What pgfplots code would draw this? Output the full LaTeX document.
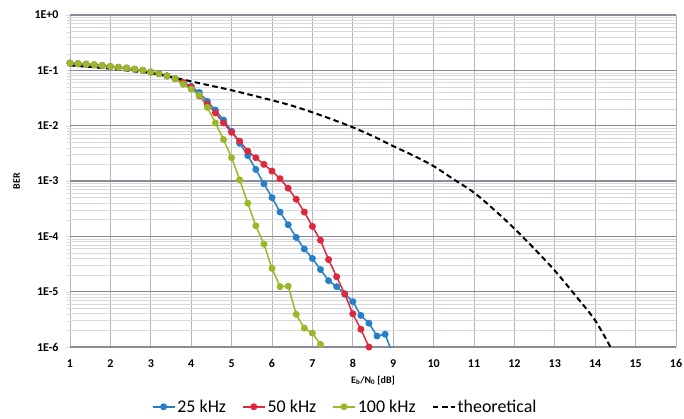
\documentclass[border=0pt]{standalone}
\usepackage{fontspec}
\setmainfont{Carlito}
\usepackage{pgfplots}
\usepackage{pgfplotstable}
\pgfplotsset{compat=1.18}
\definecolor{cblue}{RGB}{38,128,200}
\definecolor{cred}{RGB}{222,40,62}
\definecolor{cgreen}{RGB}{152,186,40}
\definecolor{gmaj}{RGB}{140,140,150}
\definecolor{gvert}{RGB}{180,180,190}
\definecolor{gmin}{RGB}{216,216,224}

\pgfplotstableread{
x y
1.0 0.135
1.2 0.132
1.4 0.129
1.6 0.126
1.8 0.122
2.0 0.117
2.2 0.1135
2.4 0.110
2.6 0.105
2.8 0.100
3.0 0.0933
3.2 0.0871
3.4 0.0794
3.6 0.0708
3.8 0.0603
4.0 0.0513
4.2 0.0398
4.4 0.0275
4.6 0.0191
4.8 0.0126
5.0 0.00794
5.2 0.00479
5.4 0.00288
5.6 0.00162
5.8 8.91e-4
6.0 5.01e-4
6.2 2.75e-4
6.4 1.62e-4
6.6 9.55e-5
6.8 5.89e-5
7.0 3.98e-5
7.2 2.51e-5
7.4 1.58e-5
7.6 1.23e-5
7.8 9.12e-6
8.0 6.61e-6
8.2 3.72e-6
8.4 2.69e-6
8.6 1.58e-6
8.8 1.70e-6
9.0 7.1e-7
}\blue

\pgfplotstableread{
x y
1.0 0.135
1.2 0.132
1.4 0.129
1.6 0.126
1.8 0.122
2.0 0.117
2.2 0.1135
2.4 0.110
2.6 0.105
2.8 0.100
3.0 0.0933
3.2 0.0871
3.4 0.0794
3.6 0.0708
3.8 0.0603
4.0 0.0501
4.2 0.0347
4.4 0.0245
4.6 0.0170
4.8 0.0112
5.0 0.00759
5.2 0.00525
5.4 0.00347
5.6 0.00263
5.8 0.00200
6.0 0.00151
6.2 0.00110
6.4 7.41e-4
6.6 4.68e-4
6.8 2.75e-4
7.0 1.51e-4
7.2 8.51e-5
7.4 3.80e-5
7.6 1.86e-5
7.8 9.12e-6
8.0 3.98e-6
8.2 2.09e-6
8.4 1.0e-6
}\red

\pgfplotstableread{
x y
1.0 0.135
1.2 0.132
1.4 0.129
1.6 0.126
1.8 0.122
2.0 0.117
2.2 0.1135
2.4 0.110
2.6 0.105
2.8 0.100
3.0 0.0933
3.2 0.0871
3.4 0.0794
3.6 0.0708
3.8 0.0562
4.0 0.0457
4.2 0.0355
4.4 0.0214
4.6 0.0112
4.8 0.00562
5.0 0.00263
5.2 0.00105
5.4 3.98e-4
5.6 1.55e-4
5.8 7.24e-5
6.0 2.63e-5
6.2 1.23e-5
6.4 1.26e-5
6.6 3.89e-6
6.8 2.19e-6
7.0 1.78e-6
7.2 1.12e-6
}\green

\pgfplotstableread{
x y
1 0.123
1.5 0.115
2 0.107
2.5 0.0977
3 0.0891
3.5 0.0759
4 0.0631
4.5 0.0525
5 0.0437
5.5 0.0355
6 0.0288
6.5 0.0229
7 0.0174
7.5 0.0129
8 0.00933
8.5 0.00646
9 0.00427
9.5 0.00288
10 0.00186
10.5 0.00107
11 6.17e-4
11.5 3.02e-4
12 1.38e-4
12.5 5.89e-5
13 2.40e-5
13.5 8.71e-6
14 3.02e-6
14.4 9.3e-7
}\theo

\begin{document}
\begin{tikzpicture}
\begin{axis}[
  name=ax,
  scale only axis,
  width=606bp, height=332bp,
  ymode=log,
  xmin=1, xmax=16, ymin=1e-6, ymax=1,
  xtick={1,...,16},
  xticklabels={1,2,3,4,5,6,7,8,9,10,11,12,13,14,15,16},
  ytick={1e-6,1e-5,1e-4,1e-3,1e-2,1e-1,1},
  yticklabels={1E-6,1E-5,1E-4,1E-3,1E-2,1E-1,1E+0},
  minor ytick={2e-6,3e-6,4e-6,5e-6,6e-6,7e-6,8e-6,9e-6,
               2e-5,3e-5,4e-5,5e-5,6e-5,7e-5,8e-5,9e-5,
               2e-4,3e-4,4e-4,5e-4,6e-4,7e-4,8e-4,9e-4,
               2e-3,3e-3,4e-3,5e-3,6e-3,7e-3,8e-3,9e-3,
               2e-2,3e-2,4e-2,5e-2,6e-2,7e-2,8e-2,9e-2,
               0.2,0.3,0.4,0.5,0.6,0.7,0.8,0.9},
  xmajorgrids, ymajorgrids, yminorgrids,
  major x grid style={gvert, line width=0.8bp},
  major y grid style={gmaj, line width=1.1bp},
  minor y grid style={gmin, line width=0.6bp},
  axis line style={draw=none},
  xtick style={draw=none},
  ytick style={draw=gmin},
  ytick pos=left,
  tick align=outside,
  major tick length=4bp, minor tick length=3bp,
  ticklabel style={font=\fontsize{12}{12}\selectfont\bfseries},
  yticklabel style={xshift=-4bp},
  xticklabel style={yshift=-5bp},
  xlabel={E\textsubscript{b}/N\textsubscript{0} [dB]},
  ylabel={BER},
  label style={font=\fontsize{10}{10}\selectfont\bfseries},
  xlabel style={at={(axis description cs:0.5,-0.1)}, anchor=center},
  ylabel style={at={(axis description cs:-0.088,0.5)}, anchor=center},
  clip marker paths=false,
  legend columns=4,
  legend style={at={(0.454,-0.18)}, anchor=center, draw=none,
    font=\fontsize{18}{18}\selectfont,
    /tikz/every even column/.append style={column sep=14bp}},
  legend image code/.code={\draw[mark indices={2}] plot coordinates {(0cm,0cm) (0.39cm,0cm) (0.78cm,0cm)};},
]
\addplot[cblue, line width=1.5bp, mark=*, mark size=2.7bp, mark indices={1,...,40}] table[x=x,y=y] {\blue};
\addlegendentry{25 kHz}
\addplot[cred, line width=1.5bp, mark=*, mark size=2.7bp] table[x=x,y=y] {\red};
\addlegendentry{50 kHz}
\addplot[cgreen, line width=1.5bp, mark=*, mark size=2.7bp] table[x=x,y=y] {\green};
\addlegendentry{100 kHz}
\addplot[black, line width=2bp, dash pattern=on 5.5bp off 3.5bp, smooth] table[x=x,y=y] {\theo};
\addlegendentry{theoretical}
\end{axis}
\pgfresetboundingbox
\path ([xshift=-70bp,yshift=-72bp]ax.south west) rectangle ([xshift=8bp,yshift=15bp]ax.north east);
\end{tikzpicture}
\end{document}
